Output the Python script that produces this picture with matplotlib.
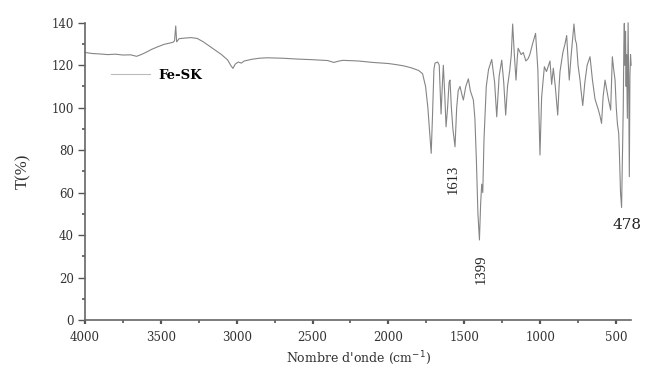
import matplotlib
matplotlib.use("Agg")
import matplotlib.pyplot as plt
from matplotlib.ticker import MultipleLocator

# Wavenumber (cm-1) and transmittance (%)
wavenumber = [
    4000, 3950, 3900, 3850, 3800, 3750, 3700, 3660, 3630, 3600, 3560, 3520, 3480,
    3440, 3420, 3410, 3402, 3396, 3380, 3340, 3300, 3260, 3220, 3180, 3140, 3100,
    3060, 3040, 3025, 3010, 2990, 2970, 2950, 2900, 2850, 2800, 2700, 2600, 2500,
    2400, 2360, 2330, 2300, 2200, 2100, 2000, 1950, 1900, 1850, 1800, 1775, 1755,
    1740, 1728, 1718, 1710, 1700, 1693, 1675, 1665, 1653, 1645, 1638, 1628, 1620,
    1610, 1600, 1594, 1585, 1575, 1561, 1550, 1540, 1528, 1515, 1506, 1490, 1473,
    1460, 1440, 1430, 1420, 1410, 1400, 1392, 1385, 1378, 1370, 1355, 1340, 1319,
    1300, 1286, 1270, 1253, 1240, 1227, 1215, 1200, 1190, 1181, 1170, 1159, 1150,
    1145, 1125, 1111, 1094, 1080, 1068, 1050, 1030, 1015, 1001, 990, 972, 958,
    935, 924, 913, 900, 884, 875, 869, 850, 836, 825, 815, 808, 795, 777, 768,
    760, 750, 737, 730, 719, 705, 690, 671, 655, 638, 625, 616, 605, 595, 585,
    572, 560, 550, 535, 524, 515, 506, 498, 490, 482, 478, 470, 463, 458, 452,
    448, 445, 441, 437, 433, 430, 425, 420, 416, 412, 408, 404, 400,
]
transmittance = [
    126.0, 125.5, 125.3, 125.0, 125.2, 124.8, 124.9, 124.2, 125.0, 126.0, 127.5, 128.7, 129.8,
    130.5, 130.8, 131.5, 138.5, 131.0, 132.5, 132.8, 133.0, 132.6, 131.0, 129.0, 127.0, 125.0,
    122.5, 120.0, 118.5, 120.5, 121.5, 121.0, 122.0, 122.8, 123.3, 123.5, 123.3, 122.9, 122.6,
    122.2, 121.3, 121.9, 122.3, 122.0, 121.3, 120.8, 120.3, 119.7, 118.8, 117.5, 116.0, 110.0,
    100.0, 88.0, 78.5, 95.0, 118.0, 121.0, 121.5, 120.0, 97.0, 110.0, 120.0, 105.0, 91.0,
    100.0, 112.0, 113.0, 100.0, 90.0, 81.6, 100.0, 108.0, 110.0, 106.0, 103.6, 110.0, 113.6,
    108.0, 103.6, 95.0, 75.0, 50.0, 37.7, 55.0, 64.0, 60.0, 85.0, 110.0, 118.0, 122.7,
    112.0, 95.7, 115.0, 122.4, 112.0, 96.5, 110.0, 117.7, 125.0, 139.4, 125.0, 113.0, 124.0,
    128.0, 125.0, 126.0, 122.0, 123.0, 125.0, 130.0, 135.0, 118.0, 77.7, 105.0, 119.3, 117.0,
    122.0, 111.0, 118.6, 110.0, 96.5, 110.0, 117.0, 126.0, 130.0, 134.0, 122.0, 113.0, 125.0, 139.4, 132.0,
    130.0, 120.0, 113.0, 108.0, 101.0, 112.0, 120.0, 124.0, 113.0, 104.0, 101.0, 99.0, 96.0, 92.6, 105.0,
    113.0, 108.0, 104.0, 98.9, 124.0, 118.0, 113.0, 100.0, 92.0, 88.0, 80.0, 60.0, 53.0, 75.0, 100.0,
    130.0, 139.7, 120.0, 136.0, 110.0, 125.0, 95.0, 140.0, 110.0, 67.5, 115.0, 125.0, 120.0,
]
series_label = "Fe-SK"
peak_labels = ["1613", "1399", "478"]
peak_positions = [1574, 1385, 430]
peak_values = [73, 31, 44.7]

plt.rcParams['font.family'] = ['DejaVu Serif']

fig = plt.figure(figsize=(6.46, 3.67), dpi=100)
ax = fig.add_axes([0.1316, 0.128, 0.8454, 0.810])

ax.plot(wavenumber, transmittance, color='#858585', lw=0.8, label=series_label, clip_on=False)

ax.set_xlim(4000, 400)
ax.set_ylim(0, 140)
ax.xaxis.set_major_locator(MultipleLocator(500))
ax.xaxis.set_minor_locator(MultipleLocator(250))
ax.yaxis.set_major_locator(MultipleLocator(20))
ax.yaxis.set_minor_locator(MultipleLocator(10))
for s in ['top', 'right']:
    ax.spines[s].set_visible(False)
for s in ['left', 'bottom']:
    ax.spines[s].set_color('#666666')
    ax.spines[s].set_linewidth(1.2)
ax.tick_params(axis='y', which='major', direction='out', length=5, width=1.0,
               labelsize=8.5, colors='#555555', labelcolor='#333333', pad=3)
ax.tick_params(axis='x', which='major', direction='out', length=3, width=1.6,
               labelsize=8.5, colors='#555555', labelcolor='#333333', pad=5)
ax.tick_params(axis='both', which='minor', direction='out', length=2, width=1.2, colors='#555555')

ax.set_ylabel("T(%)", fontsize=12, color='#333333', family='Liberation Serif')
ax.yaxis.set_label_coords(-0.098, 0.50)
ax.set_xlabel("Nombre d'onde (cm$^{-1}$)", fontsize=9, color='#333333', labelpad=4)

leg = ax.legend(loc='upper left', bbox_to_anchor=(0.025, 0.885), frameon=False,
                handlelength=3.0, handletextpad=0.6, prop={'size': 9.5, 'weight': 'bold'})
leg.get_lines()[0].set_color('#bbbbbb')

# peak annotations
ax.text(peak_positions[0], peak_values[0], peak_labels[0], rotation=90, ha='center', va='top',
        fontsize=10.5, color='#222222', family='Liberation Serif')
ax.text(peak_positions[1], peak_values[1], peak_labels[1], rotation=90, ha='center', va='top',
        fontsize=10.5, color='#222222', family='Liberation Serif')
ax.text(peak_positions[2], peak_values[2], peak_labels[2], ha='center', va='center',
        fontsize=11, color='#222222')

fig.savefig("out.png", dpi=100)
